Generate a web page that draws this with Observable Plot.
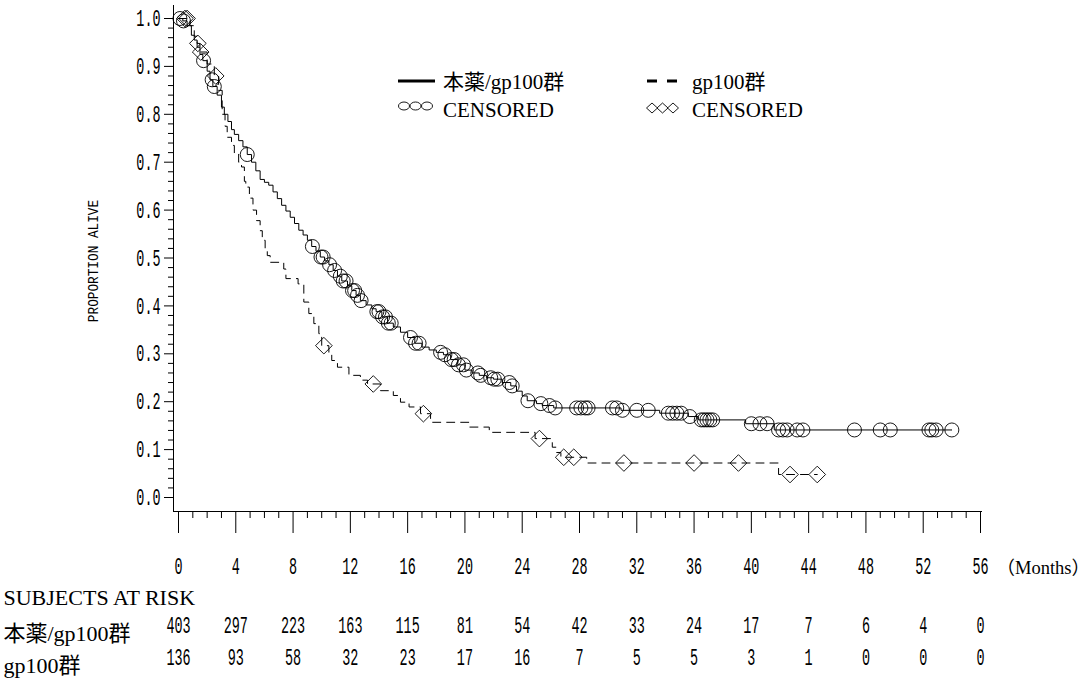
<!DOCTYPE html>
<html><head><meta charset="utf-8">
<script src="https://cdn.jsdelivr.net/npm/d3@7"></script>
<script src="https://cdn.jsdelivr.net/npm/@observablehq/plot@0.6"></script>
<style>
html,body{margin:0;padding:0;background:#fff;}
#chart{position:relative;width:1092px;height:682px;overflow:hidden;}
</style></head><body><div id="chart"></div>
<script>
// ---- data ----
const groupA = "本薬/gp100群";
const groupB = "gp100群";
const monthTicks = [0,4,8,12,16,20,24,28,32,36,40,44,48,52,56];
const yTicks = [0,0.1,0.2,0.3,0.4,0.5,0.6,0.7,0.8,0.9,1.0];
const riskA = [403,297,223,163,115,81,54,42,33,24,17,7,6,4,0];
const riskB = [136,93,58,32,23,17,16,7,5,5,3,1,0,0,0];

// Kaplan-Meier steps [month, proportion alive]
const curveA = [[0,1.0],[0.3,0.995],[0.6,0.985],[0.9,0.965],[1.1,0.955],[1.3,0.94],[1.5,0.925],[1.7,0.912],[2.0,0.89],[2.2,0.872],[2.4,0.858],[2.7,0.84],[3.0,0.815],[3.2,0.80],[3.45,0.785],[3.7,0.768],[3.9,0.758],[4.2,0.745],[4.5,0.732],[4.8,0.716],[5.1,0.70],[5.4,0.682],[5.7,0.664],[6.0,0.658],[6.3,0.652],[6.6,0.638],[6.9,0.624],[7.2,0.61],[7.5,0.598],[7.8,0.585],[8.1,0.572],[8.4,0.558],[8.7,0.548],[9.0,0.537],[9.3,0.524],[9.6,0.514],[9.9,0.502],[10.2,0.494],[10.5,0.486],[10.8,0.474],[11.1,0.462],[11.4,0.452],[11.8,0.442],[12.1,0.432],[12.4,0.422],[12.7,0.411],[13.1,0.402],[13.5,0.394],[13.8,0.388],[14.2,0.377],[14.6,0.364],[15.0,0.356],[15.5,0.345],[16.0,0.334],[16.5,0.322],[17.0,0.314],[17.5,0.308],[18.0,0.303],[18.5,0.298],[19.0,0.288],[19.5,0.277],[20.0,0.266],[20.5,0.26],[21.0,0.255],[21.5,0.25],[22.0,0.247],[22.6,0.24],[23.2,0.233],[23.6,0.222],[24.0,0.212],[24.35,0.202],[25.0,0.196],[25.4,0.192],[26.2,0.187],[30.9,0.182],[33.6,0.176],[35.6,0.169],[36.3,0.162],[39.6,0.154],[41.6,0.141],[54.0,0.141]];
const curveB = [[0,1.0],[0.8,0.985],[1.1,0.963],[1.3,0.948],[1.5,0.93],[2.0,0.905],[2.5,0.88],[2.8,0.85],[3.05,0.80],[3.25,0.775],[3.4,0.752],[3.7,0.735],[3.9,0.717],[4.2,0.70],[4.4,0.69],[4.6,0.66],[4.7,0.648],[4.95,0.625],[5.2,0.60],[5.45,0.578],[5.7,0.557],[5.85,0.537],[6.05,0.52],[6.2,0.505],[6.4,0.491],[7.35,0.477],[7.5,0.457],[8.35,0.446],[8.75,0.408],[9.1,0.384],[9.45,0.363],[9.8,0.342],[10.0,0.317],[10.5,0.30],[10.7,0.286],[11.1,0.272],[11.9,0.255],[12.7,0.245],[13.2,0.237],[14.1,0.223],[15.0,0.213],[15.5,0.199],[16.1,0.189],[16.9,0.175],[17.6,0.157],[20.3,0.147],[21.7,0.136],[24.9,0.123],[26.1,0.105],[26.4,0.094],[26.7,0.084],[28.5,0.072],[41.9,0.048],[44.6,0.048]];

// censoring times (months)
const censorA = [0.1,0.35,1.75,2.35,2.5,4.8,9.35,9.95,10.1,10.55,10.9,11.3,11.5,11.7,12.15,12.3,12.5,12.75,13.85,14.0,14.25,14.45,14.65,14.85,16.2,16.55,16.8,18.3,18.6,19.05,19.25,19.55,19.9,20.1,20.9,21.1,21.8,22.05,22.3,23.1,23.3,24.4,25.3,25.9,26.3,27.8,28.1,28.4,28.6,30.3,30.6,31.0,32.0,32.8,34.2,34.5,34.8,35.1,35.7,36.5,36.7,36.9,37.1,37.3,40.0,40.6,41.1,41.9,42.2,42.5,43.2,43.6,47.2,49.0,49.7,52.4,52.6,52.9,54.0];
const censorB = [0.45,0.6,1.35,1.55,2.6,10.15,13.6,17.1,25.2,26.9,27.6,31.1,36.0,39.1,42.7,44.6];

// value of a step curve at time t
function survAt(curve, t) {
  let s = curve[0][1];
  for (const [ti, si] of curve) { if (ti <= t) s = si; else break; }
  return s;
}

const monthMinor = d3.range(0, 57).filter(d => d % 4 !== 0);
const yMinor = d3.range(0, 51).map(d => d / 50).filter((d, i) => i % 5 !== 0);

const MONO = "'Liberation Mono', 'DejaVu Sans Mono', monospace";
const SERIF = "'Liberation Serif', 'Noto Sans CJK JP', serif";

const plot = Plot.plot({
  width: 1092, height: 682,
  marginLeft: 178, marginRight: 112, marginTop: 18, marginBottom: 185,
  x: {domain: [0, 56], axis: null},
  y: {domain: [0, 1], axis: null},
  style: {background: "white", color: "black", overflow: "visible"},
  marks: [
    // axis lines
    Plot.ruleX([0], {dx: -5, insetTop: -13, insetBottom: -14, stroke: "black"}),
    Plot.ruleY([0], {dy: 14, insetLeft: -5, insetRight: -2, stroke: "black"}),
    // ticks
    Plot.axisY({ticks: yTicks, anchor: "left", tickSize: 9, dx: -5, fill: "none", label: null}),
    Plot.axisY({ticks: yMinor, anchor: "left", tickSize: 5, dx: -5, fill: "none", label: null}),
    Plot.axisX({ticks: monthTicks, anchor: "bottom", tickSize: 22, dy: 14, fill: "none", label: null}),
    Plot.axisX({ticks: monthMinor, anchor: "bottom", tickSize: 7, dy: 14, fill: "none", label: null}),
    // tick labels
    Plot.text(yTicks, {y: d => d, text: d => d.toFixed(1), frameAnchor: "left", textAnchor: "end", lineAnchor: "middle", dx: -18, fontFamily: MONO, fontSize: 24}),
    Plot.text(monthTicks, {x: d => d, text: d => String(d), frameAnchor: "bottom", lineAnchor: "middle", dy: 69, fontFamily: MONO, fontSize: 24}),
    Plot.text(["（Months）"], {frameAnchor: "bottom-right", textAnchor: "start", lineAnchor: "middle", dx: 16, dy: 71, fontFamily: SERIF, fontSize: 18.5}),
    Plot.text(["PROPORTION ALIVE"], {frameAnchor: "left", textAnchor: "middle", lineAnchor: "middle", rotate: -90, dx: -85, dy: 3, fontFamily: MONO, fontSize: 15}),
    // curves
    Plot.line(curveA, {x: d => d[0], y: d => d[1], curve: "step-after", stroke: "black", strokeWidth: 1}),
    Plot.line(curveB, {x: d => d[0], y: d => d[1], curve: "step-after", stroke: "black", strokeWidth: 1, strokeDasharray: "8,6"}),
    Plot.dot(censorA, {x: d => d, y: d => survAt(curveA, d), symbol: "circle", r: 7, stroke: "black", fill: "none", strokeWidth: 0.9}),
    Plot.dot(censorB, {x: d => d, y: d => survAt(curveB, d), symbol: "diamond2", r: 7.5, stroke: "black", fill: "none", strokeWidth: 0.9}),
    // at-risk table
    Plot.text(["SUBJECTS AT RISK"], {frameAnchor: "bottom-left", textAnchor: "start", lineAnchor: "middle", dx: -175, dy: 100, fontFamily: SERIF, fontSize: 22}),
    Plot.text([groupA], {frameAnchor: "bottom-left", textAnchor: "start", lineAnchor: "middle", dx: -175, dy: 136, fontFamily: SERIF, fontSize: 22}),
    Plot.text([groupB], {frameAnchor: "bottom-left", textAnchor: "start", lineAnchor: "middle", dx: -175, dy: 168, fontFamily: SERIF, fontSize: 22}),
    Plot.text(monthTicks, {x: d => d, text: (d, i) => String(riskA[i]), frameAnchor: "bottom", lineAnchor: "middle", dy: 128, fontFamily: MONO, fontSize: 24}),
    Plot.text(monthTicks, {x: d => d, text: (d, i) => String(riskB[i]), frameAnchor: "bottom", lineAnchor: "middle", dy: 160, fontFamily: MONO, fontSize: 24})
  ]
});

// condense the SAS-like mono text horizontally
function squeeze(size, k) {
  plot.querySelectorAll(`g[font-size="${size}"] text`).forEach(t => {
    const tr = t.getAttribute("transform") || "";
    t.setAttribute("transform", tr + ` scale(${k},1)`);
  });
}
squeeze("24", 0.56);
squeeze("15", 0.85);

// legend
const svg = d3.select(plot);
const lg = svg.append("g").attr("aria-label", "legend").attr("font-family", SERIF).attr("font-size", 21).attr("fill", "black").attr("text-anchor", "start");
lg.append("line").attr("x1", 398).attr("x2", 435).attr("y1", 81).attr("y2", 81).attr("stroke", "black").attr("stroke-width", 3);
lg.append("text").attr("x", 443).attr("y", 82).attr("dy", "0.32em").text(groupA);
[404, 415.5, 427].forEach(cx => lg.append("ellipse").attr("cx", cx).attr("cy", 106).attr("rx", 5.5).attr("ry", 4).attr("fill", "none").attr("stroke", "black").attr("stroke-width", 0.9));
lg.append("text").attr("x", 443).attr("y", 110).attr("dy", "0.32em").text("CENSORED");
lg.append("line").attr("x1", 647).attr("x2", 677).attr("y1", 81).attr("y2", 81).attr("stroke", "black").attr("stroke-width", 3).attr("stroke-dasharray", "10,10");
lg.append("text").attr("x", 692).attr("y", 82).attr("dy", "0.32em").text(groupB);
[652, 662.5, 673].forEach(cx => lg.append("path").attr("d", `M${cx},${103} l5.5,5 l-5.5,5 l-5.5,-5 z`).attr("fill", "none").attr("stroke", "black").attr("stroke-width", 0.9));
lg.append("text").attr("x", 692).attr("y", 110).attr("dy", "0.32em").text("CENSORED");

document.getElementById("chart").appendChild(plot);
</script></body></html>
